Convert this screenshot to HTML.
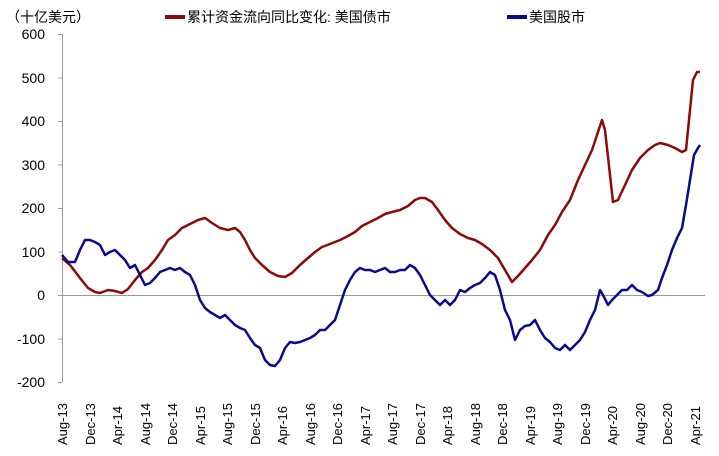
<!DOCTYPE html>
<html><head><meta charset="utf-8"><style>
body{margin:0;background:#fff;}
svg{display:block;font-family:"Liberation Sans","Noto Sans CJK SC",sans-serif;}
</style></head><body>
<svg width="719" height="456" viewBox="0 0 719 456">
<text x="6" y="22" font-size="14" fill="#000">（十亿美元）</text>
<line x1="165" y1="17" x2="185" y2="17" stroke="#8b0a0a" stroke-width="4"/>
<text x="187" y="22" font-size="14">累计资金流向同比变化: 美国债市</text>
<line x1="507" y1="17" x2="527" y2="17" stroke="#0a0a8b" stroke-width="4"/>
<text x="529" y="22" font-size="14">美国股市</text>
<g font-size="14" text-anchor="end">
<text x="45" y="39">600</text><text x="45" y="83">500</text><text x="45" y="126">400</text>
<text x="45" y="170">300</text><text x="45" y="213">200</text><text x="45" y="257">100</text>
<text x="45" y="300">0</text><text x="45" y="344">-100</text><text x="45" y="387">-200</text>
</g>
<g stroke="#999" stroke-width="1">
<line x1="62.5" y1="34" x2="62.5" y2="382"/>
<line x1="58" y1="34.5" x2="62" y2="34.5"/><line x1="58" y1="78" x2="62" y2="78"/><line x1="58" y1="121.5" x2="62" y2="121.5"/>
<line x1="58" y1="165" x2="62" y2="165"/><line x1="58" y1="208.5" x2="62" y2="208.5"/><line x1="58" y1="252" x2="62" y2="252"/>
<line x1="58" y1="295.5" x2="62" y2="295.5"/><line x1="58" y1="339" x2="62" y2="339"/><line x1="58" y1="382.5" x2="62" y2="382.5"/>
<line x1="62" y1="295.5" x2="705" y2="295.5"/>
</g>
<g font-size="13">
<text transform="translate(67,445) rotate(-90)">Aug-13</text>
<text transform="translate(95,445) rotate(-90)">Dec-13</text>
<text transform="translate(122,445) rotate(-90)">Apr-14</text>
<text transform="translate(150,445) rotate(-90)">Aug-14</text>
<text transform="translate(177,445) rotate(-90)">Dec-14</text>
<text transform="translate(205,445) rotate(-90)">Apr-15</text>
<text transform="translate(232,445) rotate(-90)">Aug-15</text>
<text transform="translate(260,445) rotate(-90)">Dec-15</text>
<text transform="translate(287,445) rotate(-90)">Apr-16</text>
<text transform="translate(315,445) rotate(-90)">Aug-16</text>
<text transform="translate(342,445) rotate(-90)">Dec-16</text>
<text transform="translate(370,445) rotate(-90)">Apr-17</text>
<text transform="translate(397,445) rotate(-90)">Aug-17</text>
<text transform="translate(425,445) rotate(-90)">Dec-17</text>
<text transform="translate(452,445) rotate(-90)">Apr-18</text>
<text transform="translate(480,445) rotate(-90)">Aug-18</text>
<text transform="translate(507,445) rotate(-90)">Dec-18</text>
<text transform="translate(535,445) rotate(-90)">Apr-19</text>
<text transform="translate(562,445) rotate(-90)">Aug-19</text>
<text transform="translate(590,445) rotate(-90)">Dec-19</text>
<text transform="translate(617,445) rotate(-90)">Apr-20</text>
<text transform="translate(645,445) rotate(-90)">Aug-20</text>
<text transform="translate(672,445) rotate(-90)">Dec-20</text>
<text transform="translate(700,445) rotate(-90)">Apr-21</text>
</g>
<polyline fill="none" stroke="#8b0a0a" stroke-width="2.5" stroke-linejoin="round" points="62,258 70,265 80,278 88,288 95,292 100,293 108,290 115,291 122,293 128,289 135,280 142,272 148,268 155,260 162,250 168,240 175,235 182,228 190,224 198,220 205,218 212,223 220,228 228,230 235,228 240,232 245,240 250,250 255,258 262,265 270,272 278,276 285,277 292,273 300,265 308,258 315,252 322,247 330,244 340,240 348,236 355,232 362,226 370,222 378,218 385,214 392,212 400,210 408,206 415,200 420,198 425,198 432,202 438,210 445,220 452,228 460,234 468,238 475,240 482,244 490,250 498,258 505,270 512,282 518,276 525,268 532,260 540,250 548,235 555,225 562,212 570,200 578,180 585,165 592,150 598,132 602,120 605,130 610,175 613,202 618,200 625,185 632,170 640,158 648,150 655,145 660,143 668,145 675,148 682,152 686,150 690,110 693,80 697,72 700,72"/>
<polyline fill="none" stroke="#0a0a8b" stroke-width="2.5" stroke-linejoin="round" points="62,255 68,262 75,262 80,250 85,240 90,240 95,242 100,245 105,255 110,252 115,250 120,255 125,260 130,268 135,265 140,275 145,285 150,283 155,278 160,272 165,270 170,268 175,270 180,268 185,272 190,275 195,285 200,300 205,308 210,312 215,315 220,318 225,315 230,320 235,325 240,328 245,330 250,338 255,345 260,348 265,360 270,365 275,366 280,360 285,348 290,342 295,343 300,342 305,340 310,338 315,335 320,330 325,330 330,325 335,320 340,305 345,290 350,280 355,272 360,268 365,270 370,270 375,272 380,270 385,268 390,272 395,272 400,270 405,270 410,265 415,268 420,275 425,285 430,295 435,300 440,305 445,300 450,305 455,300 460,290 465,292 470,288 475,285 480,283 485,278 490,272 495,275 500,290 505,310 510,320 515,340 520,330 525,326 530,325 535,320 540,330 545,338 550,342 555,348 560,350 565,345 570,350 575,345 580,340 585,332 590,320 595,310 600,290 603,295 608,305 612,300 617,295 622,290 627,290 632,285 637,290 642,292 648,296 652,295 658,290 662,278 667,265 672,250 677,238 682,228 686,205 690,180 694,155 698,148 700,145"/>
</svg>
</body></html>
